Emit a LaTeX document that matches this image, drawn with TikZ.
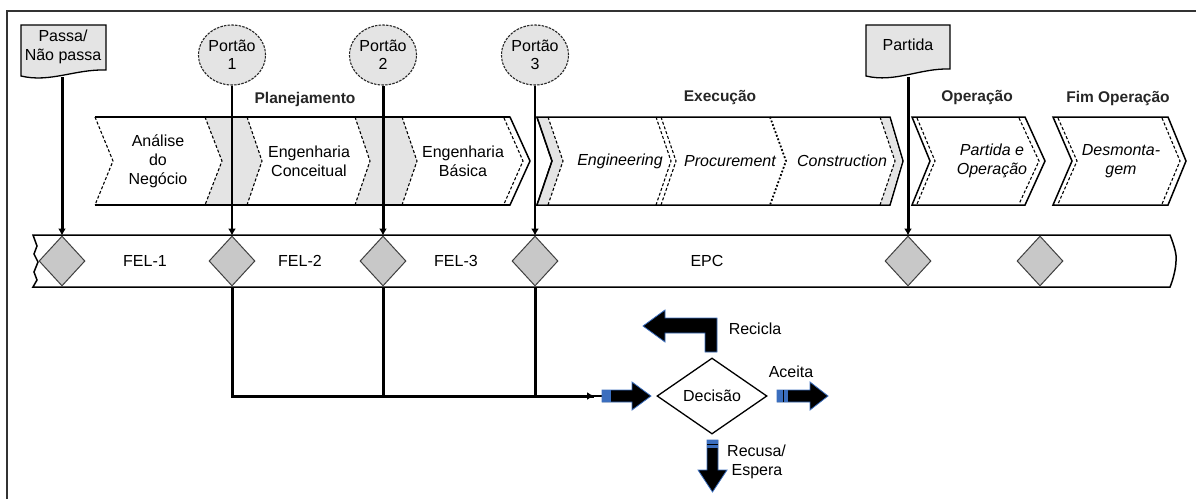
\documentclass[tikz,border=0pt]{standalone}
\usepackage{fontspec}
\setmainfont{Liberation Sans}
\usetikzlibrary{arrows.meta,shapes.geometric}
\definecolor{lgray}{RGB}{228,228,228}
\definecolor{dgray}{RGB}{200,200,200}
\definecolor{ablue}{RGB}{59,110,190}
\begin{document}
\begin{tikzpicture}[x=1pt,y=-1pt,
  lbl/.style={font=\fontsize{16}{19}\selectfont, align=center, inner sep=0pt},
  ilbl/.style={font=\fontsize{16}{19}\selectfont\itshape, align=center, inner sep=0pt},
  hdr/.style={font=\fontsize{15.5}{19}\selectfont\bfseries, inner sep=0pt, text=black!85},
  gate/.style={ellipse, draw=black!85, fill=lgray, line width=1.1pt, dash pattern=on 2.5pt off 1.2pt,
    minimum width=67pt, minimum height=60pt, inner sep=0pt, align=center,
    font=\fontsize{16}{18}\selectfont},
  callout/.style={draw, fill=lgray, line width=1.3pt},
  chev/.style={draw, line width=1.5pt, fill=white},
  strip/.style={fill=lgray},
  sep/.style={line width=1.1pt, dash pattern=on 3pt off 2pt},
  gdia/.style={diamond, draw=black!75, fill=dgray, line width=1pt, minimum width=46pt,
    minimum height=50pt, inner sep=0pt},
  thin/.style={line width=1.3pt},
  thick/.style={line width=3pt},
  tip/.style={-{Latex[length=7pt,width=8pt]}},
  blk/.style={fill=black, draw=ablue, line width=0.8pt}
]
\useasboundingbox (0,0) rectangle (1196,499);
% frame
\draw[line width=1.5pt, black!80] (7,499) -- (7,11) -- (1196,11);

% ---------- Group A: Planejamento ----------
\draw[chev] (95,117) -- (510,117) -- (530,161) -- (510,205) -- (95,205);
\fill[strip] (205,117) -- (222,161) -- (205,205) -- (247,205) -- (262,161) -- (247,117) -- cycle;
\fill[strip] (355,117) -- (370,161) -- (355,205) -- (402,205) -- (417,161) -- (402,117) -- cycle;
\draw[sep] (95,117) -- (113,161) -- (95,205);
\draw[sep] (205,117) -- (222,161) -- (205,205);
\draw[sep] (247,117) -- (262,161) -- (247,205);
\draw[sep] (355,117) -- (370,161) -- (355,205);
\draw[sep] (402,117) -- (417,161) -- (402,205);
\draw[sep] (504,118) -- (523,161) -- (504,204);
\draw[line width=1.5pt] (95,117) -- (510,117) (95,205) -- (510,205);
\node[hdr] (hplan) at (305,99) {Planejamento};
\node[lbl] (tan) at (158,161) {Análise\\do\\Negócio};
\node[lbl] (tec) at (309,161) {Engenharia\\Conceitual};
\node[lbl] (teb) at (463,161) {Engenharia\\Básica};

% ---------- Group B: Execucao ----------
\draw[chev] (537,117) -- (890,117) -- (903,161) -- (890,205) -- (537,205) -- (552,161) -- cycle;
\fill[strip] (537.8,118) -- (552.8,161) -- (537.8,204) -- (548,204) -- (563,161) -- (548,118) -- cycle;
\fill[strip] (880,118) -- (895,161) -- (880,204) -- (889,204) -- (902,161) -- (889,118) -- cycle;
\draw[sep] (548,117) -- (563,161) -- (548,205);
\draw[sep] (880,117) -- (895,161) -- (880,205);
\draw[sep] (656,117) -- (671,161) -- (656,205);
\draw[sep] (661,117) -- (676,161) -- (661,205);
\draw[dotted, line width=1.8pt] (770,117) -- (786,161) -- (770,205);
\draw[line width=1.5pt] (537,117) -- (552,161) -- (537,205);
\node[hdr] (hexe) at (720,98) {Execução};
\node[ilbl] (teng) at (620,161) {Engineering};
\node[ilbl] (tpro) at (730,161) {Procurement};
\node[ilbl] (tcon) at (842,161) {Construction};

% ---------- Group C: Operacao ----------
\draw[chev] (912,117) -- (1025,117) -- (1045,161) -- (1025,205) -- (912,205) -- (930,161) -- cycle;
\draw[sep] (917,118) -- (935,161) -- (917,204);
\draw[sep] (1019,118) -- (1039,161) -- (1019,204);
\node[hdr] (hope) at (977,98) {Operação};
\node[ilbl] (tpo) at (992,161) {Partida e\\Operação};

% ---------- Group D: Fim Operacao ----------
\draw[chev] (1053,117) -- (1168,117) -- (1186,161) -- (1168,205) -- (1053,205) -- (1072,161) -- cycle;
\draw[sep] (1058,118) -- (1077,161) -- (1058,204);
\draw[sep] (1162,118) -- (1180,161) -- (1162,204);
\node[hdr] (hfim) at (1118,98) {Fim Operação};
\node[ilbl] (tdes) at (1121,161) {Desmonta-\\gem};

% ---------- FEL band ----------
\draw[line width=1.5pt, fill=white] (33,235) -- (1170,235)
  .. controls (1174,245) and (1177,255) .. (1176,261)
  .. controls (1176,268) and (1173,280) .. (1170,287)
  -- (33,287) -- (37,280) -- (34,272) -- (38,262) -- (34,254) -- (37,246) -- cycle;
\node[gdia] (d1) at (62,261) {};
\node[gdia] (d2) at (232,261) {};
\node[gdia] (d3) at (383,261) {};
\node[gdia] (d4) at (535,261) {};
\node[gdia] (d5) at (908,261) {};
\node[gdia] (d6) at (1040,261) {};
\node[lbl] (fel1) at (145,261) {FEL-1};
\node[lbl] (fel2) at (300,261) {FEL-2};
\node[lbl] (fel3) at (456,261) {FEL-3};
\node[lbl] (epc) at (707,261) {EPC};

% ---------- callouts and gates ----------
\draw[callout] (21,25) -- (106,25) -- (106,70) .. controls (75,69) and (50,83) .. (21,76) -- cycle;
\node[lbl] (passa) at (63,47) {Passa/\\Não passa};
\coordinate (passab) at (62,77);
\draw[callout] (866,25) -- (950,25) -- (950,69) .. controls (920,68) and (895,83) .. (866,76) -- cycle;
\node[lbl] (partida) at (908,45) {Partida};
\coordinate (partidab) at (908,77);
\node[gate] (g1) at (232,55) {Portão\\1};
\node[gate] (g2) at (383,55) {Portão\\2};
\node[gate] (g3) at (535,55) {Portão\\3};

\draw[thick, tip] (passab) -- (d1.north);
\draw[thin, tip] (g1.south) -- (d2.north);
\draw[thick, tip] (g2.south) -- (d3.north);
\draw[thin, tip] (g3.south) -- (d4.north);
\draw[thick, tip] (partidab) -- (d5.north);

% ---------- decision ----------
\node[diamond, draw, line width=1.3pt, fill=white, minimum width=110pt, minimum height=76pt,
  inner sep=0pt, font=\fontsize{16}{19}\selectfont] (dec) at (712,396) {Decisão};
\coordinate (j) at (594,396);
\coordinate (ain) at (602,396);
\draw[thick] (d2.south) |- (j);
\draw[thick] (d3.south) -- (d3.south |- j);
\draw[thick] (d4.south) -- (d4.south |- j);
\draw[line width=2pt, tip] (d4.south |- j) -- (j);
\draw[line width=1.3pt] (j) -- (ain);

% incoming block arrow
\draw[blk] (602,390) -- (632,390) -- (632,382) -- (651,396) -- (632,410) -- (632,402) -- (602,402) -- cycle;
\fill[ablue] (602,390) rectangle (611,402);
% Aceita
\draw[blk] (777,390) -- (810,390) -- (810,382) -- (828,396) -- (810,410) -- (810,402) -- (777,402) -- cycle;
\fill[ablue] (777,390) rectangle (788,402);
\draw[line width=0.8pt] (783,390) -- (783,402);
\node[lbl] (aceita) at (791,372) {Aceita};
% Recusa
\draw[blk] (707,440) -- (718,440) -- (718,470) -- (727,470) -- (712.5,492) -- (698,470) -- (707,470) -- cycle;
\fill[ablue] (707,440) rectangle (718,448);
\draw[line width=0.8pt] (707,444) -- (718,444);
\node[lbl, align=left, anchor=west] (recusa) at (727,462) {Recusa/\\\ Espera};
% Recicla
\draw[blk] (705,352) -- (705,333) -- (665,333) -- (665,342) -- (643,326) -- (665,310) -- (665,318) -- (717,318) -- (717,352) -- cycle;
\node[lbl] (recicla) at (755,329) {Recicla};
\end{tikzpicture}
\end{document}
